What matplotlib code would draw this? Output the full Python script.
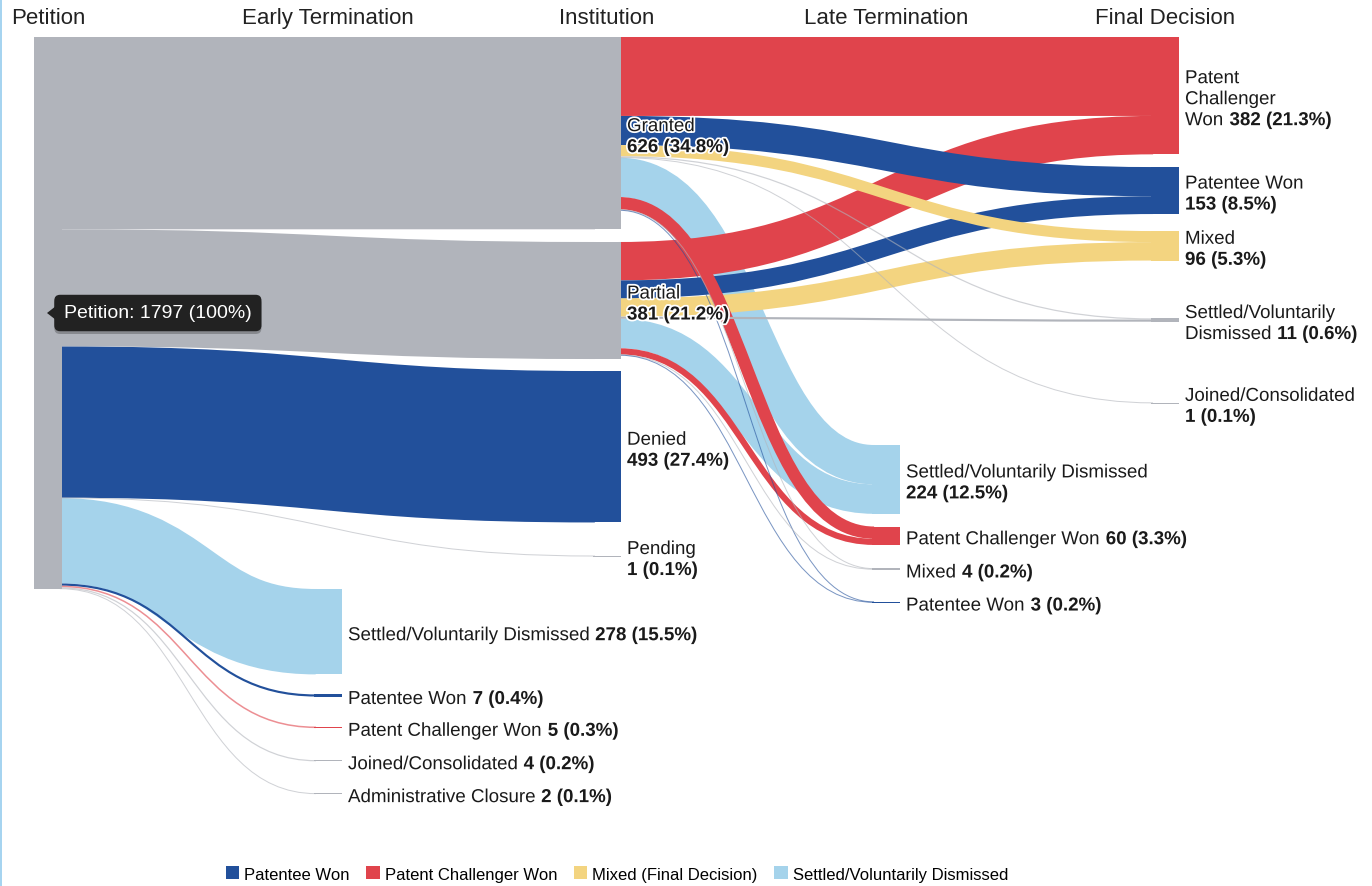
import matplotlib
matplotlib.use("Agg")
import matplotlib.pyplot as plt
import matplotlib.patheffects as pe
from matplotlib.path import Path
from matplotlib.patches import PathPatch, Rectangle, Patch, Polygon

plt.rcParams['font.family'] = ['Liberation Sans', 'DejaVu Sans']

# ---- data ----
column_titles = ["Petition", "Early Termination", "Institution", "Late Termination", "Final Decision"]

node_keys = ["petition",
             "early_settled", "early_patentee", "early_challenger", "early_joined", "early_admin",
             "granted", "partial", "denied", "pending",
             "late_settled", "late_challenger", "late_mixed", "late_patentee",
             "final_challenger", "final_patentee", "final_mixed", "final_settled", "final_joined"]
# "\n" marks a wrap, the count goes after the last line
node_names = ["Petition",
              "Settled/Voluntarily Dismissed ", "Patentee Won ", "Patent Challenger Won ",
              "Joined/Consolidated ", "Administrative Closure ",
              "Granted\n", "Partial\n", "Denied\n", "Pending\n",
              "Settled/Voluntarily Dismissed\n", "Patent Challenger Won ", "Mixed ", "Patentee Won ",
              "Patent\nChallenger\nWon ", "Patentee Won\n", "Mixed\n",
              "Settled/Voluntarily\nDismissed ", "Joined/Consolidated\n"]
node_column = [0, 1, 1, 1, 1, 1, 2, 2, 2, 2, 3, 3, 3, 3, 4, 4, 4, 4, 4]
node_kind = ["neutral", "settled", "patentee", "challenger", "neutral", "neutral",
             "neutral", "neutral", "patentee", "neutral",
             "settled", "challenger", "neutral", "patentee",
             "challenger", "patentee", "mixed", "neutral", "neutral"]

link_source = ["petition"] * 9 + ["granted"] * 9 + ["partial"] * 8
link_target = ["granted", "partial", "denied", "pending", "early_settled",
               "early_patentee", "early_challenger", "early_joined", "early_admin",
               "final_challenger", "final_patentee", "final_mixed", "final_settled", "final_joined",
               "late_settled", "late_challenger", "late_mixed", "late_patentee",
               "final_challenger", "final_patentee", "final_mixed", "final_settled",
               "late_settled", "late_challenger", "late_mixed", "late_patentee"]
link_value = [626, 381, 493, 1, 278, 7, 5, 4, 2,
              257, 95, 36, 4, 1, 128, 40, 2, 2,
              125, 58, 60, 7, 96, 20, 2, 1]

legend_kinds = ["patentee", "challenger", "mixed", "settled"]
legend_labels = ["Patentee Won", "Patent Challenger Won", "Mixed (Final Decision)",
                 "Settled/Voluntarily Dismissed"]

kind_color = {"neutral": "#b1b4bb", "patentee": "#22509b", "challenger": "#e0444c",
              "mixed": "#f3d480", "settled": "#a5d3eb"}

# ---- layout (pixels) ----
W, H = 1372, 887
col_x = [34, 314, 593, 872, 1151]
NODE_W = 28
TOP_PX = 38
column_gaps_px = [[0], [552, 20, 30, 32, 32], [0, 12.7, 12, 33.4],
                  [408, 12.7, 23.4, 32], [0, 12.7, 17, 57.8, 81]]
LINE_PX = 21
LABEL_FS = 13.5
LABEL_SHIFT_PX = 4  # nudge label baselines down
PT = 0.72  # points per pixel at 100 dpi

idx = {key: i for i, key in enumerate(node_keys)}
n = len(node_keys)
inflow = [0] * n
outflow = [0] * n
for s, t, v in zip(link_source, link_target, link_value):
    outflow[idx[s]] += v
    inflow[idx[t]] += v
node_value = [max(a, b) for a, b in zip(inflow, outflow)]
total = node_value[idx["petition"]]

k = 552 / total  # pixels per case

# stack the nodes of each column
node_top = [0.0] * n
for c in range(len(col_x)):
    members = [i for i in range(n) if node_column[i] == c]
    y = 0.0
    for i, gap in zip(members, column_gaps_px[c]):
        y += gap / k
        node_top[i] = y
        y += node_value[i]

# slots for every link on both ends
links = list(zip(link_source, link_target, link_value))
src_y = [0.0] * len(links)
tgt_y = [0.0] * len(links)
for i in range(n):
    outs = [j for j, (s, t, v) in enumerate(links) if idx[s] == i]
    outs.sort(key=lambda j: node_top[idx[links[j][1]]])
    y = node_top[i]
    for j in outs:
        src_y[j] = y + links[j][2] / 2
        y += links[j][2]
    ins = [j for j, (s, t, v) in enumerate(links) if idx[t] == i]
    ins.sort(key=lambda j: node_top[idx[links[j][0]]])
    y = node_top[i]
    for j in ins:
        tgt_y[j] = y + links[j][2] / 2
        y += links[j][2]

fig = plt.figure(figsize=(W / 100, H / 100), dpi=100)
ax = fig.add_axes([0, 0, 1, 1])
ax.set_xlim(0, W)
ax.set_ylim((H - TOP_PX) / k, -TOP_PX / k)
ax.axis("off")

# links, widest first so thin ones stay on top; ends tucked under the nodes
for j in sorted(range(len(links)), key=lambda j: -links[j][2]):
    s, t, v = links[j]
    x0 = col_x[node_column[idx[s]]] + NODE_W - 2
    x1 = col_x[node_column[idx[t]]] + 2
    xm = (x0 + x1) / 2
    path = Path([(x0, src_y[j]), (xm, src_y[j]), (xm, tgt_y[j]), (x1, tgt_y[j])],
                [Path.MOVETO, Path.CURVE4, Path.CURVE4, Path.CURVE4])
    w_px = v * k
    ax.add_patch(PathPatch(path, fill=False, edgecolor=kind_color[node_kind[idx[t]]],
                           lw=max(w_px, 1.0) * PT, capstyle="butt",
                           alpha=1.0 if w_px >= 2 else 0.6, zorder=1))

# nodes
for i in range(n):
    h = max(node_value[i], 1 / k)
    ax.add_patch(Rectangle((col_x[node_column[i]], node_top[i]), NODE_W, h,
                           facecolor=kind_color[node_kind[i]], edgecolor="none",
                           antialiased=False, zorder=2))

# node labels
halo = [pe.withStroke(linewidth=2.5, foreground="white")]
for i in range(n):
    if node_column[i] == 0:
        continue
    val = node_value[i]
    value_txt = f"{val} ({val / total * 100:.1f}%)"
    lines = node_names[i].split("\n")
    xl = col_x[node_column[i]] + NODE_W
    yc = node_top[i] + val / 2
    for j, line in enumerate(lines):
        dy = -((j - (len(lines) - 1) / 2) * LINE_PX + LABEL_SHIFT_PX) * PT
        last = j == len(lines) - 1
        if line.strip():
            reg = ax.annotate(line.strip(), xy=(xl, yc), xytext=(6 * PT, dy),
                              textcoords="offset points", ha="left", va="center",
                              fontsize=LABEL_FS, color="#1a1a1a", path_effects=halo, zorder=4)
            if last:
                ax.annotate(value_txt, xy=(1, 0.5), xycoords=reg, xytext=(4.5, 0),
                            textcoords="offset points", ha="left", va="center",
                            fontsize=LABEL_FS, fontweight="bold", color="#1a1a1a",
                            path_effects=halo, zorder=4)
        elif last:
            ax.annotate(value_txt, xy=(xl, yc), xytext=(6 * PT, dy),
                        textcoords="offset points", ha="left", va="center",
                        fontsize=LABEL_FS, fontweight="bold", color="#1a1a1a",
                        path_effects=halo, zorder=4)

# column titles
for c, title in enumerate(column_titles):
    ax.annotate(title, xy=(col_x[c] + NODE_W / 2, H - 19), xycoords=("data", "figure pixels"),
                ha="center", va="center", fontsize=16, color="#222222")

# hover tooltip on the petition node
p = idx["petition"]
cx = col_x[0] + NODE_W / 2
cy = node_top[p] + node_value[p] / 2
tip = ax.annotate(f"Petition: {total} (100%)", xy=(cx, cy), xytext=(16 * PT, 0),
                  textcoords="offset points", ha="left", va="center", color="white",
                  fontsize=14, zorder=6,
                  bbox=dict(boxstyle="round,pad=0.5,rounding_size=0.3", fc="#222222", ec="none"))
tip.get_bbox_patch().set_path_effects([pe.withSimplePatchShadow(offset=(0, -2), alpha=0.25)])
ax.add_patch(Polygon([(cx - 1, cy), (cx + 8, cy - 7 / k), (cx + 8, cy + 7 / k)],
                     closed=True, facecolor="#222222", edgecolor="none", zorder=6))

# left border strip
ax.axvline(1, color="#a6d4f0", lw=2 * PT, zorder=0)

handles = [Patch(facecolor=kind_color[kd], label=lb) for kd, lb in zip(legend_kinds, legend_labels)]
fig.legend(handles=handles, loc="center", bbox_to_anchor=(617 / W, (H - 875) / H), ncol=4,
           frameon=False, fontsize=12, handlelength=0.8, handleheight=0.8,
           handletextpad=0.3, columnspacing=1.0)

fig.savefig("out.png", dpi=100)
